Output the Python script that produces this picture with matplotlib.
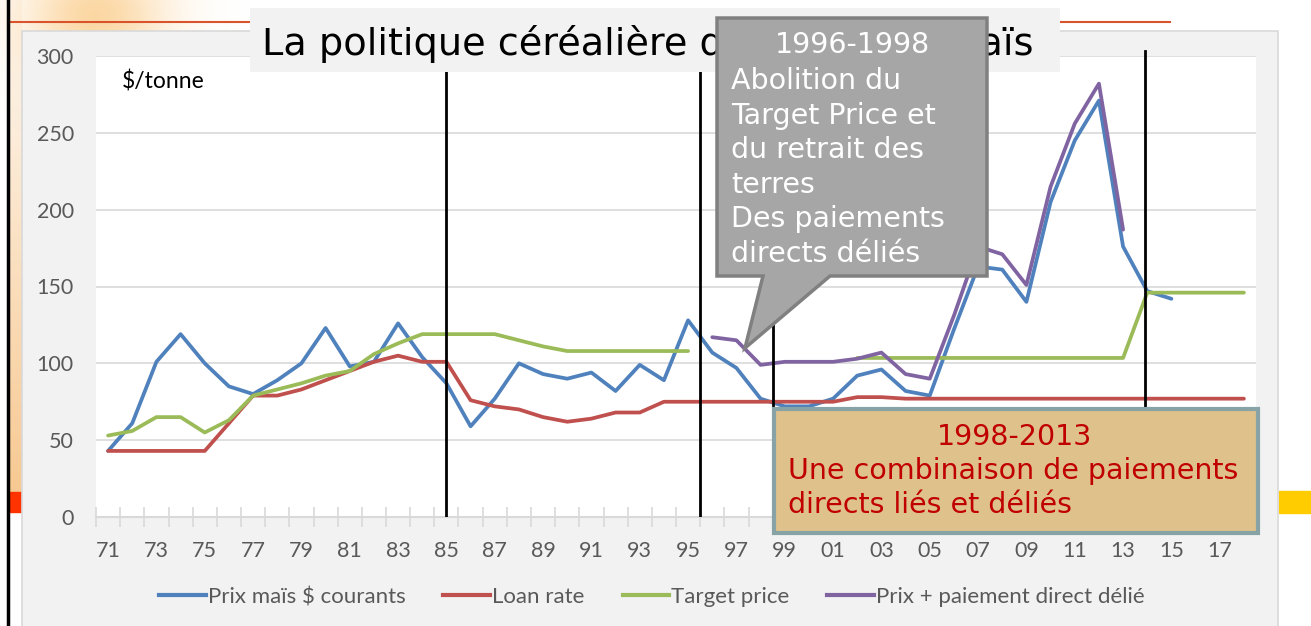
import numpy as np
import matplotlib
matplotlib.use("Agg")
import matplotlib.pyplot as plt
from matplotlib.patches import Rectangle, Polygon
from matplotlib.lines import Line2D

nan = np.nan

years = ['71', '72', '73', '74', '75', '76', '77', '78', '79', '80', '81', '82',
         '83', '84', '85', '86', '87', '88', '89', '90', '91', '92', '93', '94',
         '95', '96', '97', '98', '99', '00', '01', '02', '03', '04', '05', '06',
         '07', '08', '09', '10', '11', '12', '13', '14', '15', '16', '17', '18']

prix = [43, 61, 101, 119, 100, 85, 80, 89, 100, 123, 98, 101, 126, 104, 87, 59,
        77, 100, 93, 90, 94, 82, 99, 89, 128, 107, 97, 77, 72, 72, 77, 92, 96,
        82, 79, 122, 163, 161, 140, 205, 245, 271, 176, 147, 142, nan, nan, nan]

loan = [43, 43, 43, 43, 43, 61, 79, 79, 83, 89, 95, 101, 105, 101, 101, 76,
        72, 70, 65, 62, 64, 68, 68, 75, 75, 75, 75, 75, 75, 75, 75, 78, 78,
        77, 77, 77, 77, 77, 77, 77, 77, 77, 77, 77, 77, 77, 77, 77]

target = [53, 56, 65, 65, 55, 63, 79, 83, 87, 92, 95, 106, 113, 119, 119, 119,
          119, 115, 111, 108, 108, 108, 108, 108, 108, nan, nan, nan, nan, nan,
          nan, 103.5, 103.5, 103.5, 103.5, 103.5, 103.5, 103.5, 103.5, 103.5,
          103.5, 103.5, 103.5, 146, 146, 146, 146, 146]

prix_delie = [nan] * 25 + [117, 115, 99, 101, 101, 101, 103, 107, 93, 90, 131,
                           176, 171, 151, 215, 256, 282, 187] + [nan] * 5

series = [
    ("Prix maïs $ courants", prix, "#4f81bd"),
    ("Loan rate", loan, "#c0504d"),
    ("Target price", target, "#9bbb59"),
    ("Prix + paiement direct délié", prix_delie, "#8064a2"),
]

title = "La politique céréalière des USA : le maïs"

W, H = 1311, 626
fig = plt.figure(figsize=(W / 100, H / 100), dpi=100)
fig.patch.set_facecolor("white")

# slide background (pixel coordinates)
bg = fig.add_axes([0, 0, 1, 1], zorder=-10)
bg.set_xlim(0, W)
bg.set_ylim(H, 0)
bg.axis("off")
yy, xx = np.mgrid[0:200, 0:260]
d = np.sqrt(((xx - 95) / 70.0) ** 2 + ((yy - 15) / 60.0) ** 2)
glow = np.zeros((200, 260, 4))
glow[..., 0] = 0.98
glow[..., 1] = 0.72
glow[..., 2] = 0.35
glow[..., 3] = np.clip(0.55 * np.exp(-d ** 2), 0, 1)
bg.imshow(glow, extent=(0, 260, 200, 0), aspect="auto", zorder=0)
strip = np.zeros((100, 1, 4))
strip[..., 0] = 0.97
strip[..., 1] = 0.78
strip[..., 2] = 0.55
strip[:, 0, 3] = np.linspace(0.1, 0.95, 100)
bg.imshow(strip, extent=(8, 22, 492, 0), aspect="auto", zorder=1)
bg.add_patch(Rectangle((8, 492), 14, 20, color="#ff3300", zorder=2))
bg.add_patch(Rectangle((1279, 491), 32, 22, color="#ffcc00", zorder=2))
bg.plot([8, 1170], [22, 22], color="#d9542c", lw=1.5, zorder=2)
bg.plot([8, 8], [0, H], color="black", lw=2.5, zorder=3)
bg.add_patch(Rectangle((22, 31), 1256, 600, facecolor="#f2f2f2",
                       edgecolor="#d9d9d9", lw=1.2, zorder=4))

# chart
ax = fig.add_axes([96 / W, (H - 517) / H, 1160 / W, 461 / H])
ax.set_facecolor("white")
x = np.arange(len(years))
for name, vals, col in series:
    ax.plot(x, vals, color=col, lw=2.7, label=name, solid_capstyle="round",
            zorder=3)

ax.set_xlim(-0.5, len(years) - 0.5)
ax.set_ylim(0, 300)
ax.set_yticks(range(0, 301, 50))
ax.yaxis.grid(True, color="#d9d9d9", lw=1.2)
ax.set_axisbelow(True)
for s in ["top", "right", "left"]:
    ax.spines[s].set_visible(False)
ax.spines["bottom"].set_color("#d9d9d9")
ax.spines["bottom"].set_linewidth(1.5)
ax.set_xticks(x[::2])
ax.set_xticklabels(years[::2])
ax.set_xticks(np.arange(-0.5, len(years), 1), minor=True)
ax.tick_params(axis="x", which="major", length=0, pad=17,
               labelsize=15.5, labelcolor="#595959")
ax.tick_params(axis="x", which="minor", direction="inout", length=15,
               color="#d9d9d9", width=1.2)
ax.tick_params(axis="y", length=0, pad=16, labelsize=15.5,
               labelcolor="#595959")
for lab in ax.get_xticklabels() + ax.get_yticklabels():
    lab.set_family("Lato")
ax.text(0.022, 0.945, "$/tonne", transform=ax.transAxes, fontsize=16.5,
        family="Lato", color="black", va="center")

# period markers
ax.plot([14, 14], [0, 290], color="black", lw=2, zorder=4)
ax.plot([24.5, 24.5], [0, 290], color="black", lw=2, zorder=4)
ax.plot([27.5, 27.5], [0, 200], color="black", lw=2, zorder=4)
ax.plot([42.9, 42.9], [69, 303], color="black", lw=2, zorder=4,
        clip_on=False)

handles = [Line2D([], [], color=c, lw=3) for _, _, c in series]
leg = fig.legend(handles, [n for n, _, _ in series], loc="center",
                 bbox_to_anchor=(652 / W, 1 - 597 / H), ncol=4, frameon=False,
                 handlelength=2.1, handletextpad=0.1, columnspacing=1.7,
                 prop={"family": "Lato", "size": 16})
for t in leg.get_texts():
    t.set_color("#595959")

# overlay shapes
ov = fig.add_axes([0, 0, 1, 1], zorder=10)
ov.set_xlim(0, W)
ov.set_ylim(H, 0)
ov.axis("off")
ov.patch.set_visible(False)

ov.add_patch(Rectangle((250, 8), 810, 64, facecolor="#f2f2f2",
                       edgecolor="none", zorder=1))
tt = ov.text(262, 44, title, fontsize=27, family="DejaVu Sans",
             color="black", va="center", ha="left", zorder=2)
# fit title so that it ends where the reference one does
fig.canvas.draw()
tw = tt.get_window_extent().width
tt.set_fontsize(27 * 771.0 / tw)

callout = [(717, 18), (987, 18), (987, 276), (830, 276), (745, 348),
           (763, 276), (717, 276)]
ov.add_patch(Polygon(callout, closed=True, facecolor="#a6a6a6",
                     edgecolor="#808080", lw=2.5, joinstyle="miter", zorder=5))
ov.text(852, 45, "1996-1998", fontsize=20.5, color="white", ha="center",
        va="center", family="DejaVu Sans", zorder=6)
for i, line in enumerate(["Abolition du", "Target Price et", "du retrait des",
                          "terres", "Des paiements", "directs déliés"]):
    ov.text(731, 81 + i * 34.6, line, fontsize=20.5, color="white",
            ha="left", va="center", family="DejaVu Sans", zorder=6)

ov.add_patch(Rectangle((774, 409), 484, 124, facecolor="#dfc18b",
                       edgecolor="#87a3a5", lw=3, zorder=5))
ov.text(1014, 437, "1998-2013", fontsize=20.5, color="#c00000", ha="center",
        va="center", family="DejaVu Sans", zorder=6)
ov.text(788, 471, "Une combinaison de paiements", fontsize=20.5,
        color="#c00000", ha="left", va="center", family="DejaVu Sans",
        zorder=6)
ov.text(788, 505, "directs liés et déliés", fontsize=20.5, color="#c00000",
        ha="left", va="center", family="DejaVu Sans", zorder=6)

fig.savefig("out.png", dpi=100)
